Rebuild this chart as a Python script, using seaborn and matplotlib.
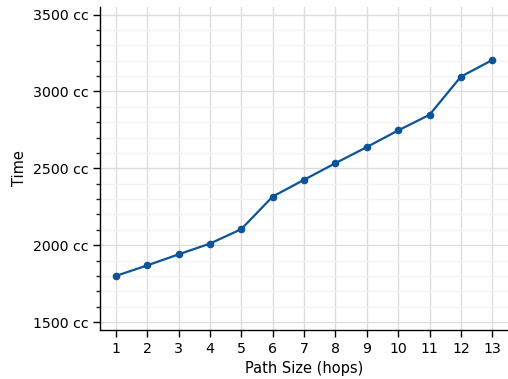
import matplotlib
matplotlib.use('Agg')
import matplotlib.pyplot as plt
import seaborn as sns
import pandas as pd
from matplotlib.ticker import MultipleLocator, FuncFormatter

# Dati
hops = [1, 2, 3, 4, 5, 6, 7, 8, 9, 10, 11, 12, 13]
time_cc = [1800, 1868, 1940, 2010, 2104, 2316, 2425, 2533, 2638, 2746, 2848, 3096, 3204]

df = pd.DataFrame({'Path Size (hops)': hops, 'Time': time_cc})

sns.set_theme(style="ticks")
plt.rcParams['font.family'] = ['DejaVu Sans']

fig, ax = plt.subplots(figsize=(5.08, 3.79), dpi=100)

sns.lineplot(data=df, x='Path Size (hops)', y='Time', marker='o',
             color='#0b549a', linewidth=1.6, markersize=5.5,
             markeredgewidth=0, ax=ax)

ax.set_xlim(0.5, 13.5)
ax.set_ylim(1450, 3550)
ax.set_xticks(hops)
ax.yaxis.set_major_locator(MultipleLocator(500))
ax.yaxis.set_minor_locator(MultipleLocator(100))
ax.yaxis.set_major_formatter(FuncFormatter(lambda v, p: f'{int(v)} cc'))

ax.grid(which='major', color='#dddddd', linewidth=1)
ax.grid(which='minor', axis='y', color='#f2f2f2', linewidth=1)
ax.set_axisbelow(True)

ax.tick_params(axis='both', which='major', direction='out', length=5, width=1,
               labelsize=10.2, colors='black')
ax.tick_params(axis='y', which='minor', direction='out', length=3, width=1)
for s in ['top', 'right']:
    ax.spines[s].set_visible(False)
for s in ['left', 'bottom']:
    ax.spines[s].set_color('black')
    ax.spines[s].set_linewidth(1)

ax.set_xlabel('Path Size (hops)', fontsize=10.5, color='black')
ax.set_ylabel('Time', fontsize=10.5, color='black')

fig.subplots_adjust(left=0.197, right=1.0, top=0.982, bottom=0.13)
fig.savefig('out.png', dpi=100)
